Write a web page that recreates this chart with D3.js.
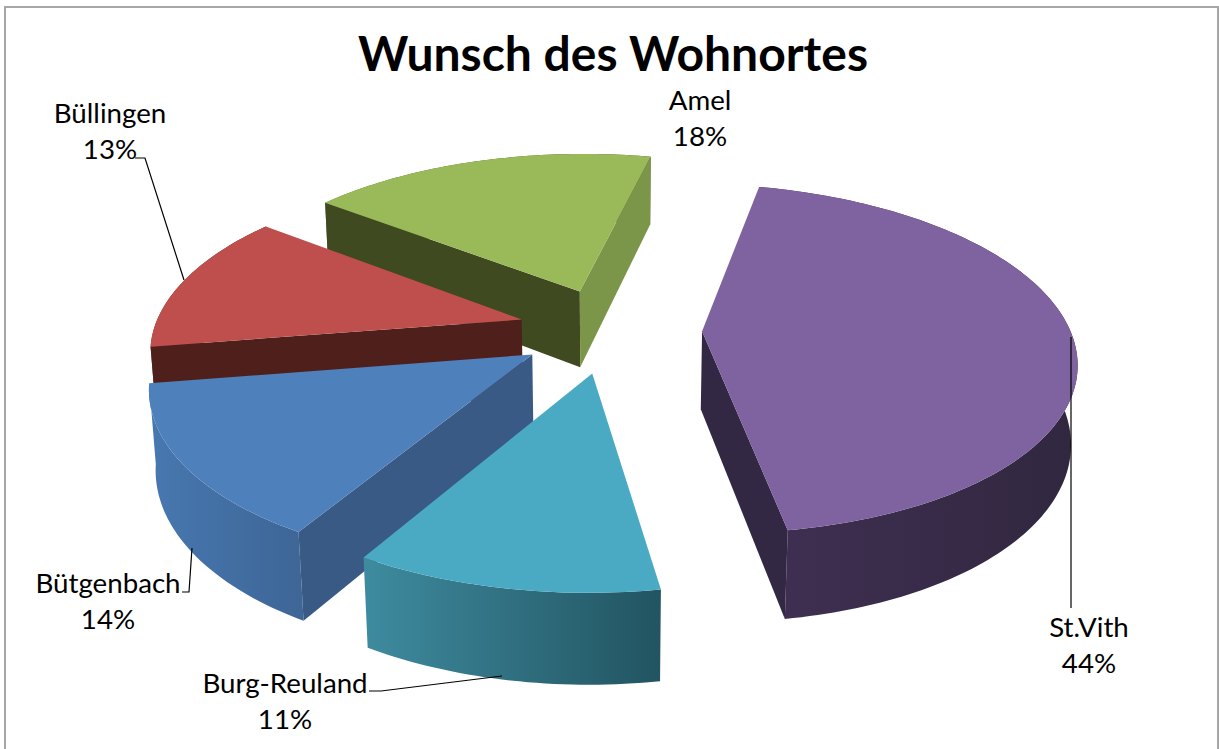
<!DOCTYPE html>
<html><head><meta charset="utf-8">
<script src="https://cdn.jsdelivr.net/npm/d3@7/dist/d3.min.js"></script>
<style>html,body{margin:0;padding:0;background:#fff}svg{display:block}</style>
</head><body><div id="c"></div>
<script>
const categories = ["St.Vith","Burg-Reuland","Bütgenbach","Büllingen","Amel"];
const shares = [44,11,14,13,18];
const labels = ["St.Vith\n44%","Burg-Reuland\n11%","Bütgenbach\n14%","Büllingen\n13%","Amel\n18%"];
const topColors = ["#7F62A0","#4AAAC4","#4E80BC","#BE4F4C","#9ABA59"];
const wallStart = ["#332843","#2E6B7C","#385A85","#4F1F1C","#3F4A20"];
const wallEnd = ["#332843","#2E6B7C","#385A85","#4F1F1C","#7B9648"];
const rimLeft = ["#402F53","#3E8B9F","#4778B0","#7A2F2D","#5d7335"];
const rimRight = ["#31273F","#225461","#3E6697","#4F1F1C","#3F4A20"];
const labelAt = [[1089,628],[285,684],[108,584],[110,114],[700,101]];
const leaders = [
  [[1071,337],[1071,608]],
  [[369,691],[381,691],[502,676]],
  [[182,592],[189,592],[192,548]],
  [[135,158],[145,158],[184,280]]
];

const W=1219,H=749;
const cx=610, cy=330, Rx=368, Ry=170, Dz=79, k=0.156, m=0.014, explode=0.25, resolution=0.02;
const startDeg=12.5;
const svg=d3.select("#c").append("svg").attr("width",W).attr("height",H).attr("viewBox",`0 0 ${W} ${H}`);
const defs=svg.append("defs");

const px=d3.scaleLinear().domain([0,1]).range([0,Rx]);
const py=d3.scaleLinear().domain([0,1]).range([0,Ry]);
function project(u,v,z){
  const s=1/(1-k*v+m*z);
  return [cx+px(u)*s, cy+py(v)*s+Dz*z*s];
}
const line=d3.line();
const pie=d3.pie().sort(null).value(d=>d)
  .startAngle(startDeg*Math.PI/180).endAngle(startDeg*Math.PI/180+2*Math.PI);
const arcs=pie(shares).map((a,i)=>{
  const mid=(a.startAngle+a.endAngle)/2;
  const ou=explode*Math.sin(mid), ov=-explode*Math.cos(mid);
  return {i,a0:a.startAngle,a1:a.endAngle,ou,ov};
}).sort((p,q)=>p.ov-q.ov);

function rimPts(d,z){
  const n=Math.ceil((d.a1-d.a0)/resolution);
  return d3.range(n+1).map(j=>{
    const a=d.a0+(d.a1-d.a0)*j/n;
    return project(d.ou+Math.sin(a),d.ov-Math.cos(a),z);
  });
}
const cross=(a,b,c)=>(b[0]-a[0])*(c[1]-b[1])-(b[1]-a[1])*(c[0]-b[0]);

const g=svg.append("g");
arcs.forEach(d=>{
  const top=rimPts(d,0), bot=rimPts(d,1);
  const a0=project(d.ou,d.ov,0), b0=project(d.ou,d.ov,1);
  const ext=d3.extent(top,p=>p[0]);
  const id="rim"+d.i;
  const gr=defs.append("linearGradient").attr("id",id).attr("gradientUnits","userSpaceOnUse")
    .attr("x1",ext[0]).attr("x2",ext[1]).attr("y1",0).attr("y2",0);
  gr.append("stop").attr("offset",0).attr("stop-color",rimLeft[d.i]);
  gr.append("stop").attr("offset",1).attr("stop-color",rimRight[d.i]);
  const sl=g.append("g").attr("class","slice");
  sl.append("path").attr("d",line([...top,...bot.slice().reverse()])+"Z").attr("fill",`url(#${id})`);
  const sFirst=top[0], bFirst=bot[0], sLast=top[top.length-1], bLast=bot[bot.length-1];
  if(cross(a0,sFirst,bFirst)<0)
    sl.append("path").attr("d",line([a0,sFirst,bFirst,b0])+"Z").attr("fill",wallStart[d.i]);
  if(cross(a0,sLast,bLast)>0)
    sl.append("path").attr("d",line([a0,sLast,bLast,b0])+"Z").attr("fill",wallEnd[d.i]);
  sl.append("path").attr("d",line([a0,...top])+"Z").attr("fill",topColors[d.i]);
});

svg.append("path").attr("d",`M5,${H}V7H1218V${H}`).attr("fill","none").attr("stroke","#a6a6a6").attr("stroke-width",2);

svg.append("g").selectAll("path").data(leaders).join("path")
  .attr("d",d=>line(d)).attr("fill","none").attr("stroke","#000").attr("stroke-width",1.2);

svg.append("text").attr("x",613).attr("y",71).attr("text-anchor","middle")
  .attr("font-family","Lato, 'Open Sans', sans-serif").attr("font-weight",700).attr("font-size",48).attr("fill","#000")
  .text("Wunsch des Wohnortes");

labels.forEach((t,i)=>{
  const [x,y]=labelAt[i];
  const el=svg.append("text").attr("text-anchor","middle").attr("font-family","Lato, 'Open Sans', sans-serif")
    .attr("font-size",27.7).attr("fill","#000");
  t.split("\n").forEach((s,j)=>el.append("tspan").attr("x",x).attr("y",y+9+j*35.5).text(s));
});
</script></body></html>
